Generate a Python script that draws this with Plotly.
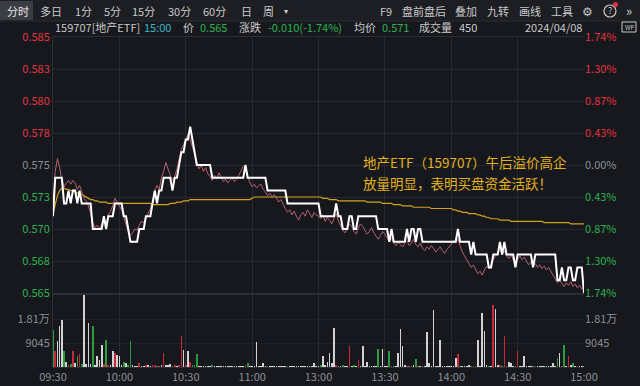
import plotly.graph_objects as go

# ---------------- data ----------------
prev_close = 0.575
time_ticks = [0, 30, 60, 90, 120, 150, 180, 210, 240]
time_labels = ["09:30", "10:00", "10:30", "11:00", "13:00", "13:30", "14:00", "14:30", "15:00"]

price = [
    0.571, 0.574, 0.574, 0.574, 0.574, 0.572, 0.572, 0.573, 0.572, 0.573,
    0.573, 0.572, 0.573, 0.572, 0.572, 0.572, 0.572, 0.572, 0.570, 0.570,
    0.570, 0.570, 0.570, 0.571, 0.570, 0.571, 0.571, 0.571, 0.572, 0.572,
    0.572, 0.572, 0.571, 0.571, 0.570, 0.569, 0.569, 0.569, 0.569, 0.570,
    0.570, 0.570, 0.571, 0.571, 0.571, 0.572, 0.573, 0.572, 0.573, 0.573,
    0.574, 0.574, 0.574, 0.574, 0.573, 0.574, 0.574, 0.575, 0.576, 0.576,
    0.577, 0.577, 0.578, 0.577, 0.576, 0.575, 0.575, 0.575, 0.575, 0.575,
    0.575, 0.575, 0.574, 0.574, 0.574, 0.574, 0.574, 0.574, 0.574, 0.574,
    0.574, 0.574, 0.574, 0.574, 0.574, 0.574, 0.574, 0.575, 0.574, 0.574,
    0.574, 0.574, 0.574, 0.574, 0.574, 0.574, 0.574, 0.573, 0.573, 0.573,
    0.573, 0.573, 0.573, 0.573, 0.573, 0.573, 0.572, 0.572, 0.572, 0.572,
    0.572, 0.572, 0.572, 0.572, 0.572, 0.572, 0.572, 0.572, 0.572, 0.572,
    0.572, 0.571, 0.571, 0.571, 0.571, 0.571, 0.571, 0.571, 0.572, 0.571,
    0.571, 0.570, 0.570, 0.570, 0.571, 0.571, 0.570, 0.570, 0.571, 0.571,
    0.571, 0.571, 0.571, 0.571, 0.571, 0.571, 0.571, 0.570, 0.570, 0.570,
    0.570, 0.570, 0.569, 0.570, 0.569, 0.569, 0.569, 0.569, 0.569, 0.569,
    0.570, 0.569, 0.570, 0.570, 0.569, 0.570, 0.570, 0.569, 0.569, 0.569,
    0.569, 0.569, 0.569, 0.569, 0.569, 0.569, 0.569, 0.569, 0.569, 0.569,
    0.569, 0.569, 0.569, 0.570, 0.569, 0.569, 0.569, 0.569, 0.569, 0.568,
    0.569, 0.568, 0.568, 0.568, 0.568, 0.568, 0.568, 0.567, 0.567, 0.568,
    0.568, 0.568, 0.569, 0.568, 0.569, 0.568, 0.568, 0.568, 0.568, 0.567,
    0.568, 0.568, 0.568, 0.568, 0.568, 0.568, 0.568, 0.567, 0.568, 0.568,
    0.568, 0.568, 0.568, 0.568, 0.568, 0.568, 0.568, 0.568, 0.566, 0.566,
    0.567, 0.566, 0.566, 0.567, 0.567, 0.566, 0.566, 0.567, 0.567, 0.567,
    0.565,
]

iopv = [
    0.5720, 0.5745, 0.5755, 0.5748, 0.5738, 0.5733, 0.5736, 0.5738, 0.5735, 0.5738,
    0.5736, 0.5731, 0.5734, 0.5728, 0.5724, 0.5722, 0.5718, 0.5712, 0.5705, 0.5701,
    0.5703, 0.5700, 0.5704, 0.5708, 0.5705, 0.5711, 0.5714, 0.5718, 0.5724, 0.5721,
    0.5718, 0.5715, 0.5709, 0.5704, 0.5698, 0.5695, 0.5697, 0.5700, 0.5699, 0.5703,
    0.5706, 0.5705, 0.5709, 0.5713, 0.5716, 0.5722, 0.5730, 0.5734, 0.5731, 0.5740,
    0.5745, 0.5752, 0.5746, 0.5742, 0.5738, 0.5741, 0.5747, 0.5755, 0.5762, 0.5766,
    0.5770, 0.5774, 0.5770, 0.5764, 0.5758, 0.5753, 0.5747, 0.5750, 0.5745, 0.5748,
    0.5743, 0.5741, 0.5738, 0.5742, 0.5739, 0.5744, 0.5740, 0.5737, 0.5739, 0.5736,
    0.5738, 0.5740, 0.5737, 0.5739, 0.5742, 0.5745, 0.5749, 0.5747, 0.5741, 0.5736,
    0.5733, 0.5735, 0.5732, 0.5734, 0.5735, 0.5731, 0.5729, 0.5726, 0.5728, 0.5725,
    0.5727, 0.5724, 0.5721, 0.5723, 0.5719, 0.5716, 0.5713, 0.5715, 0.5711, 0.5714,
    0.5710, 0.5707, 0.5711, 0.5713, 0.5710, 0.5715, 0.5712, 0.5709, 0.5713, 0.5711,
    0.5710, 0.5708, 0.5711, 0.5706, 0.5709, 0.5707, 0.5704, 0.5708, 0.5712, 0.5706,
    0.5702, 0.5699, 0.5697, 0.5701, 0.5704, 0.5702, 0.5698, 0.5696, 0.5701, 0.5704,
    0.5702, 0.5699, 0.5696, 0.5698, 0.5701, 0.5697, 0.5694, 0.5692, 0.5695, 0.5698,
    0.5696, 0.5693, 0.5690, 0.5693, 0.5689, 0.5687, 0.5690, 0.5688, 0.5686, 0.5689,
    0.5691, 0.5687, 0.5689, 0.5692, 0.5688, 0.5686, 0.5689, 0.5685, 0.5683, 0.5686,
    0.5684, 0.5687, 0.5685, 0.5682, 0.5684, 0.5686, 0.5683, 0.5681, 0.5684, 0.5686,
    0.5688, 0.5691, 0.5689, 0.5692, 0.5686, 0.5682, 0.5679, 0.5676, 0.5673, 0.5670,
    0.5672, 0.5668, 0.5665, 0.5667, 0.5664, 0.5668, 0.5671, 0.5669, 0.5673, 0.5676,
    0.5679, 0.5682, 0.5684, 0.5680, 0.5683, 0.5679, 0.5677, 0.5680, 0.5676, 0.5674,
    0.5677, 0.5679, 0.5676, 0.5678, 0.5675, 0.5672, 0.5674, 0.5671, 0.5673, 0.5670,
    0.5672, 0.5669, 0.5671, 0.5668, 0.5670, 0.5667, 0.5664, 0.5661, 0.5658, 0.5660,
    0.5657, 0.5655, 0.5658, 0.5656, 0.5659, 0.5655, 0.5657, 0.5654, 0.5656, 0.5653,
    None,
]

avg_price = [
    0.5712, 0.5720, 0.5726, 0.5730, 0.5732, 0.5732, 0.5731, 0.5731, 0.5730, 0.5730,
    0.5729, 0.5728, 0.5728, 0.5727, 0.5726, 0.5725, 0.5724, 0.5723, 0.5723, 0.5722,
    0.5722, 0.5721, 0.5721, 0.5721, 0.5721, 0.5720, 0.5720, 0.5720, 0.5720, 0.5720,
    0.5720, 0.5720, 0.5720, 0.5720, 0.5720, 0.5720, 0.5720, 0.5720, 0.5720, 0.5720,
    0.5720, 0.5720, 0.5720, 0.5720, 0.5720, 0.5719, 0.5719, 0.5719, 0.5719, 0.5719,
    0.5719, 0.5719, 0.5719, 0.5720, 0.5720, 0.5720, 0.5721, 0.5721, 0.5721, 0.5722,
    0.5722, 0.5722, 0.5723, 0.5723, 0.5723, 0.5723, 0.5723, 0.5723, 0.5723, 0.5723,
    0.5723, 0.5723, 0.5723, 0.5723, 0.5723, 0.5723, 0.5723, 0.5723, 0.5723, 0.5723,
    0.5723, 0.5723, 0.5723, 0.5723, 0.5723, 0.5723, 0.5723, 0.5723, 0.5723, 0.5723,
    0.5724, 0.5725, 0.5725, 0.5725, 0.5725, 0.5725, 0.5725, 0.5725, 0.5725, 0.5725,
    0.5725, 0.5725, 0.5725, 0.5725, 0.5725, 0.5725, 0.5725, 0.5725, 0.5725, 0.5725,
    0.5725, 0.5725, 0.5725, 0.5725, 0.5725, 0.5725, 0.5725, 0.5725, 0.5725, 0.5725,
    0.5725, 0.5725, 0.5724, 0.5724, 0.5724, 0.5723, 0.5723, 0.5723, 0.5723, 0.5722,
    0.5722, 0.5722, 0.5722, 0.5722, 0.5722, 0.5722, 0.5722, 0.5722, 0.5722, 0.5722,
    0.5722, 0.5722, 0.5721, 0.5721, 0.5721, 0.5721, 0.5721, 0.5721, 0.5721, 0.5720,
    0.5720, 0.5720, 0.5720, 0.5720, 0.5719, 0.5719, 0.5719, 0.5719, 0.5718, 0.5718,
    0.5718, 0.5718, 0.5718, 0.5717, 0.5717, 0.5717, 0.5717, 0.5717, 0.5717, 0.5717,
    0.5717, 0.5716, 0.5716, 0.5716, 0.5716, 0.5716, 0.5716, 0.5716, 0.5716, 0.5716,
    0.5716, 0.5715, 0.5715, 0.5714, 0.5714, 0.5713, 0.5713, 0.5713, 0.5712, 0.5712,
    0.5712, 0.5712, 0.5711, 0.5711, 0.5710, 0.5710, 0.5709, 0.5709, 0.5708, 0.5708,
    0.5708, 0.5708, 0.5707, 0.5707, 0.5707, 0.5707, 0.5707, 0.5706, 0.5706, 0.5706,
    0.5706, 0.5706, 0.5706, 0.5706, 0.5706, 0.5706, 0.5706, 0.5706, 0.5706, 0.5706,
    0.5706, 0.5706, 0.5705, 0.5705, 0.5705, 0.5705, 0.5705, 0.5705, 0.5705, 0.5705,
    0.5705, 0.5705, 0.5705, 0.5705, 0.5704, 0.5704, 0.5704, 0.5704, 0.5704, 0.5704,
    0.5704,
]

volume = [
    13950, 5900, 9700, 15500, 17800, 5900, 1800, 900, 1200, 5900,
    1500, 4000, 4800, 1000, 27000, 1200, 16600, 1000, 15600, 800,
    4000, 2500, 8400, 1200, 10300, 600, 900, 5900, 5400, 4500,
    4300, 800, 2000, 1500, 700, 9700, 600, 400, 500, 1600,
    500, 300, 800, 600, 400, 700, 900, 500, 400, 600,
    5300, 800, 600, 1200, 500, 700, 400, 900, 11800, 6500,
    900, 5900, 2000, 800, 600, 5000, 400, 300, 500, 350,
    300, 450, 600, 300, 250, 400, 350, 500, 300, 250,
    450, 300, 350, 500, 300, 250, 400, 600, 1500, 350,
    300, 450, 9300, 300, 400, 1500, 350, 500, 300, 250,
    400, 300, 350, 250, 450, 300, 500, 350, 300, 250,
    400, 300, 350, 450, 300, 250, 400, 350, 1400, 300,
    500, 900, 4000, 600, 2000, 5300, 1500, 14700, 700, 500,
    400, 600, 350, 500, 8000, 450, 600, 300, 2500, 400,
    7800, 350, 1800, 400, 300, 500, 350, 6800, 450, 6800,
    400, 500, 5900, 350, 300, 450, 5300, 14300, 8000, 600,
    500, 400, 350, 600, 3000, 500, 400, 450, 350, 13100,
    1500, 400, 21400, 350, 500, 10300, 400, 300, 450, 350,
    400, 500, 3500, 5000, 450, 350, 400, 300, 600, 500,
    450, 400, 10300, 500, 20400, 13500, 600, 450, 500, 23500,
    21900, 600, 800, 500, 11800, 450, 1800, 1500, 400, 500,
    5900, 350, 400, 4000, 300, 450, 350, 500, 400, 300,
    350, 400, 300, 450, 350, 400, 1500, 500, 3500, 5300,
    400, 8400, 500, 4000, 600, 1500, 400, 350, 300, 450,
    450,
]

price_ticks = [0.565, 0.5675, 0.570, 0.5725, 0.575, 0.5775, 0.580, 0.5825, 0.585]
price_labels = ["0.565", "0.568", "0.570", "0.573", "0.575", "0.578", "0.580", "0.583", "0.585"]
pct_labels = ["1.74%", "1.30%", "0.87%", "0.43%", "0.00%", "0.43%", "0.87%", "1.30%", "1.74%"]
vol_ticks = [9045, 18090]
vol_labels = ["9045", "1.81万"]

# ---------------- styles ----------------
BG = "#16181d"
GRID = "#262930"
RED = "#e0353f"
GREEN = "#2db34f"
GREY = "#8c8f96"
TXT = "#c9c9c9"
FONT = "Noto Sans CJK SC, Noto Sans, sans-serif"
W, H = 640, 386


def py(px):
    return 1 - px / H


def px_(x):
    return x / W


idx = list(range(len(price)))


def tick_color(v):
    if abs(v - prev_close) < 1e-9:
        return GREY
    return RED if v > prev_close else GREEN


left_text = [f"<span style='color:{tick_color(v)}'>{t}</span>" for v, t in zip(price_ticks, price_labels)]
right_text = [f"<span style='color:{tick_color(v)}'>{t}</span>" for v, t in zip(price_ticks, pct_labels)]

vol_colors = []
for i, p in enumerate(price):
    prev = prev_close if i == 0 else price[i - 1]
    if p > prev:
        vol_colors.append("#c8283a")
    elif p < prev:
        vol_colors.append("#2a9c3e")
    else:
        vol_colors.append("#d2d2d2")

fig = go.Figure()
fig.add_trace(go.Scatter(x=idx, y=avg_price, mode="lines", line=dict(color="#d4a21c", width=1.2),
                         xaxis="x", yaxis="y", hoverinfo="skip"))
fig.add_trace(go.Scatter(x=idx, y=iopv, mode="lines", line=dict(color="#b8606e", width=1),
                         xaxis="x", yaxis="y", hoverinfo="skip"))
fig.add_trace(go.Scatter(x=idx, y=price, mode="lines", line=dict(color="#ffffff", width=2),
                         xaxis="x", yaxis="y", hoverinfo="skip"))
fig.add_trace(go.Scatter(x=[0], y=[prev_close], mode="lines", opacity=0, xaxis="x", yaxis="y3",
                         hoverinfo="skip"))
fig.add_trace(go.Bar(x=idx, y=volume, marker=dict(color=vol_colors, line=dict(width=0)), width=0.75,
                     xaxis="x2", yaxis="y2", hoverinfo="skip"))
fig.add_trace(go.Scatter(x=[0], y=[0], mode="lines", opacity=0, xaxis="x2", yaxis="y4", hoverinfo="skip"))

xdom = [px_(53), px_(584)]
common_x = dict(domain=xdom, range=[0, 240], tickvals=time_ticks, ticktext=time_labels,
                showgrid=True, gridcolor=GRID, gridwidth=1, zeroline=False,
                showline=True, mirror=True, linecolor="#2c2f36", ticks="", automargin=False,
                tickfont=dict(size=11, color=GREY, family=FONT), fixedrange=True)

fig.update_layout(
    width=W, height=H, autosize=False,
    margin=dict(l=0, r=0, t=0, b=0, pad=0),
    paper_bgcolor=BG, plot_bgcolor=BG,
    showlegend=False, bargap=0,
    font=dict(family=FONT, color=GREY),
    xaxis=dict(**common_x, anchor="y", showticklabels=False),
    xaxis2=dict(**common_x, anchor="y2", matches="x", showticklabels=True),
    yaxis=dict(domain=[py(293), py(37)], range=[0.565, 0.585], tickvals=price_ticks, ticktext=left_text,
               showgrid=True, gridcolor=GRID, zeroline=False, showline=True, linecolor="#2c2f36",
               ticks="", tickfont=dict(size=11, family=FONT), anchor="x", fixedrange=True, automargin=False),
    yaxis3=dict(overlaying="y", side="right", range=[0.565, 0.585], tickvals=price_ticks, ticktext=right_text,
                showgrid=False, zeroline=False, ticks="", tickfont=dict(size=11, family=FONT),
                anchor="x", fixedrange=True, automargin=False),
    yaxis2=dict(domain=[py(367), py(295)], range=[0, 27135], tickvals=vol_ticks, ticktext=vol_labels,
                showgrid=True, gridcolor="#1f2228", zeroline=False, showline=True, linecolor="#2c2f36",
                ticks="", tickfont=dict(size=11, color=GREY, family=FONT), anchor="x2", fixedrange=True,
                automargin=False),
    yaxis4=dict(overlaying="y2", side="right", range=[0, 27135], tickvals=vol_ticks, ticktext=vol_labels,
                showgrid=False, zeroline=False, ticks="", tickfont=dict(size=11, color=GREY, family=FONT),
                anchor="x2", fixedrange=True, automargin=False),
)

shapes = [
    dict(type="rect", xref="paper", yref="paper", x0=0, x1=1, y0=py(21), y1=1,
         fillcolor="#1c1e23", line=dict(width=0), layer="below"),
    dict(type="rect", xref="paper", yref="paper", x0=0, x1=px_(33), y0=py(20), y1=py(1),
         fillcolor="#3a3d44", line=dict(width=0), layer="below"),
    dict(type="line", xref="paper", yref="paper", x0=0, x1=1, y0=py(21), y1=py(21),
         line=dict(color="#2a2d33", width=1)),
    # help icon circle + notification dot
    dict(type="circle", xref="paper", yref="paper", x0=px_(604), x1=px_(616), y0=py(17), y1=py(5),
         line=dict(color=TXT, width=1.2)),
    dict(type="circle", xref="paper", yref="paper", x0=px_(613), x1=px_(618), y0=py(7), y1=py(2),
         fillcolor="#e0303a", line=dict(width=0)),
    # screen icon at right of header row
    dict(type="rect", xref="paper", yref="paper", x0=px_(622), x1=px_(636), y0=py(32), y1=py(22),
         line=dict(color=TXT, width=1)),
]
fig.update_layout(shapes=shapes)

ann = []


def txt(x, y, s, color=TXT, size=11, anchor="left"):
    ann.append(dict(x=px_(x), y=py(y), xref="paper", yref="paper", text=s, showarrow=False,
                    xanchor=anchor, yanchor="middle", font=dict(color=color, size=size, family=FONT)))


# toolbar
tool_left = [(5, "分时", "#e8e8e8"), (38, "多日", TXT), (73, "1分", TXT), (102, "5分", TXT),
             (130, "15分", TXT), (166, "30分", TXT), (201, "60分", TXT),
             (239, "日", TXT), (261, "周", TXT)]
for x, s, c in tool_left:
    txt(x, 11, s, c, 11)
txt(282, 11, "▾", TXT, 8)
tool_right = [(378, "F9"), (400, "盘前盘后"), (453, "叠加"), (485, "九转"), (517, "画线"), (549, "工具")]
for x, s in tool_right:
    txt(x, 11, s, TXT, 11)
txt(587, 11, "⚙", TXT, 12, anchor="center")
txt(610, 11, "?", TXT, 9, anchor="center")
txt(629, 11, "»", TXT, 13, anchor="center")

# header row
txt(53, 27, "159707[地产ETF]", TXT, 11)
txt(142, 27, "15:00", "#3db6c6", 11)
txt(181, 27, "价", TXT, 11)
txt(198, 27, "0.565", GREEN, 11)
txt(237, 27, "涨跌", TXT, 11)
txt(266, 27, "-0.010(-1.74%)", GREEN, 11)
txt(352, 27, "均价", TXT, 11)
txt(380, 27, "0.571", GREEN, 11)
txt(417, 27, "成交量", TXT, 11)
txt(457, 27, "450", TXT, 11)
txt(584, 27, "2024/04/08", TXT, 11, anchor="right")
txt(629, 27, "WP", TXT, 6, anchor="center")

# commentary
txt(361, 162, "地产ETF（159707）午后溢价高企", "#e3b21e", 13.5)
txt(361, 183, "放量明显，表明买盘资金活跃！", "#e3b21e", 13.5)

fig.update_layout(annotations=ann)

fig.write_html("out.html", config={"displayModeBar": False, "staticPlot": True})
